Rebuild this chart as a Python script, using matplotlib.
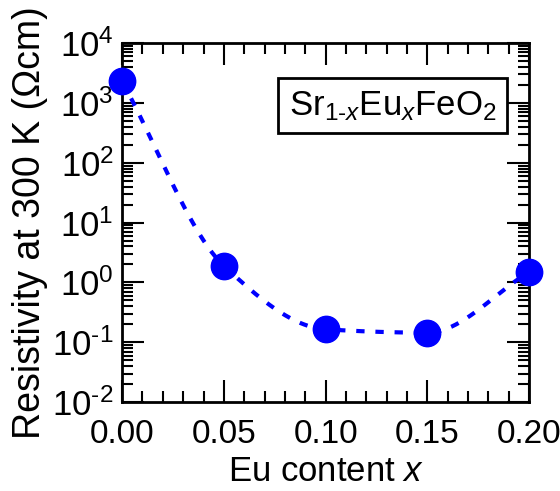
import numpy as np
from matplotlib import pyplot as plt
from matplotlib.ticker import FuncFormatter, LogLocator, NullFormatter

eu_content = [0.00, 0.05, 0.10, 0.15, 0.20]
resistivity = [2300, 1.9, 0.165, 0.145, 1.5]


def pchip(x, y, xs):
    # shape-preserving cubic Hermite, end slopes taken from the end secants
    x = np.asarray(x, float)
    y = np.asarray(y, float)
    h = np.diff(x)
    delta = np.diff(y) / h
    n = len(x)
    m = np.zeros(n)
    for i in range(1, n - 1):
        if delta[i - 1] * delta[i] > 0:
            w1 = 2 * h[i] + h[i - 1]
            w2 = h[i] + 2 * h[i - 1]
            m[i] = (w1 + w2) / (w1 / delta[i - 1] + w2 / delta[i])
    m[0] = delta[0]
    m[-1] = delta[-1]
    out = np.empty_like(xs)
    for k, xv in enumerate(xs):
        i = min(np.searchsorted(x, xv, side="right") - 1, n - 2)
        t = (xv - x[i]) / h[i]
        h00 = 2 * t**3 - 3 * t**2 + 1
        h10 = t**3 - 2 * t**2 + t
        h01 = -2 * t**3 + 3 * t**2
        h11 = t**3 - t**2
        out[k] = h00 * y[i] + h10 * h[i] * m[i] + h01 * y[i + 1] + h11 * h[i] * m[i + 1]
    return out


def decade(v, pos):
    e = int(round(np.log10(v)))
    return "10$^{\\text{%d}}$" % e


def plot():
    plt.rcParams.update({
        "font.family": "Liberation Sans",
        "mathtext.fontset": "custom",
        "mathtext.rm": "Liberation Sans",
        "mathtext.it": "Liberation Sans:italic",
        "font.size": 24,
    })
    fig = plt.figure(figsize=(5.6, 4.91), dpi=100)
    ax = fig.add_axes([0.218, 0.181, 0.727, 0.731])

    xs = np.linspace(eu_content[0], eu_content[-1], 300)
    ys = 10 ** pchip(eu_content, np.log10(resistivity), xs)
    ax.plot(xs, ys, color="#0000ff", lw=3, dashes=(2, 2.6), zorder=2)
    ax.plot(eu_content, resistivity, "o", color="#0000ff", ms=19,
            clip_on=False, zorder=3)

    ax.set_yscale("log")
    ax.set_xlim(0, 0.2)
    ax.set_ylim(1e-2, 1e4)
    ax.yaxis.set_major_locator(LogLocator(base=10, numticks=20))
    ax.yaxis.set_minor_locator(LogLocator(base=10, subs=np.arange(2, 10), numticks=20))
    ax.yaxis.set_major_formatter(FuncFormatter(decade))
    ax.yaxis.set_minor_formatter(NullFormatter())
    ax.tick_params(axis="y", labelsize=25)
    ax.set_xticks([0, 0.05, 0.1, 0.15, 0.2])
    ax.set_xticklabels(["0.00", "0.05", "0.10", "0.15", "0.20"])
    ax.set_xticks(np.arange(0, 0.2001, 0.01), minor=True)

    for s in ax.spines.values():
        s.set_linewidth(2)
    ax.tick_params(which="both", direction="in", top=True, right=True, width=1.5)
    ax.tick_params(which="major", length=16)
    ax.tick_params(which="minor", length=8)
    ax.tick_params(axis="x", which="major", pad=12)
    ax.tick_params(axis="y", which="major", pad=6)

    ax.set_xlabel("Eu content $\\mathit{x}$", fontsize=25, labelpad=4)
    ax.set_ylabel("Resistivity at 300 K (\u03a9cm)", fontsize=27, labelpad=3)

    ax.text(0.665, 0.826,
            "Sr$_{1\\text{-}\\mathit{x}}$Eu$_{\\mathit{x}}$FeO$_{2}$",
            transform=ax.transAxes, ha="center", va="center", fontsize=25,
            bbox=dict(boxstyle="square,pad=0.3", fc="white", ec="black", lw=2))

    fig.savefig("out.png", dpi=100)
    plt.close(fig)


if __name__ == "__main__":
    plot()
